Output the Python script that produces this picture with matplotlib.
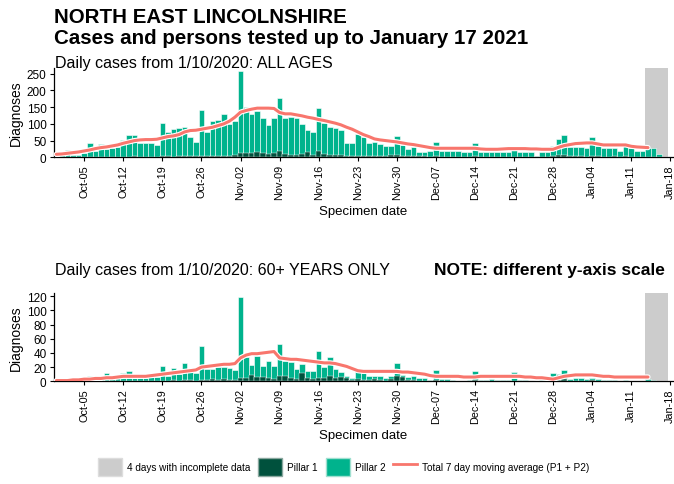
import pandas as pd
import numpy as np
import matplotlib
matplotlib.use("Agg")
import matplotlib.pyplot as plt
import matplotlib.patheffects as pe
from matplotlib.patches import Patch
from matplotlib.lines import Line2D

plt.rcParams['font.family'] = ['Liberation Sans', 'DejaVu Sans']

# daily bars: 1 Oct 2020 - 17 Jan 2021
bar_dates = pd.date_range("2020-10-01", "2021-01-17")
# 7 day average line: 30 Sep 2020 - 14 Jan 2021
avg_dates = pd.date_range("2020-09-30", "2021-01-14")

all_total = [6, 22, 6, 8, 12, 42, 20, 40, 25, 28, 32,
             52, 67, 66, 42, 42, 42, 38, 104, 77, 85, 88, 92, 60, 45,
             140, 77, 110, 112, 130, 100, 110,
             258, 150, 128, 137, 117, 97, 117,
             177, 117, 122, 117, 99, 82, 77,
             147, 102, 92, 89, 82, 42, 42,
             70, 62, 42, 47, 40, 34, 34, 65, 37, 25, 32, 15, 15, 19,
             45, 19, 19, 19, 19, 15, 15, 42, 15, 15, 15, 15, 15, 15, 35, 15, 15, 15, 3, 15, 15, 35,
             55, 67, 30, 32, 32, 27, 60, 34, 27, 27, 27, 19, 34, 27, 19, 19, 27, 27, 9, 2]
all_pillar1 = [1, 1, 0, 1, 1, 2, 1, 2, 1, 1, 2,
               2, 2, 3, 2, 2, 2, 2, 3, 3, 2, 3, 4, 3, 3,
               4, 4, 3, 4, 5, 5, 6,
               12, 14, 14, 15, 13, 10, 12,
               18, 10, 8, 8, 10, 15, 8,
               18, 9, 7, 6, 6, 4, 5,
               5, 5, 4, 4, 3, 3, 6, 7, 5, 4, 3, 3, 3, 2,
               3, 2, 2, 2, 2, 2, 2, 3, 2, 2, 2, 2, 2, 2, 2, 2, 2, 2, 1, 2, 2, 3,
               6, 8, 5, 3, 3, 2, 4, 3, 2, 2, 3, 2, 3, 2, 2, 2, 2, 2, 1, 0]
all_avg = [9, 10, 12, 14, 16, 19, 22, 26, 29, 31, 34, 37, 42, 46, 50, 52, 53, 53, 54, 58,
           62, 64, 68, 76, 80, 81, 84, 87, 90, 95, 100, 108, 120, 135, 140, 144, 147, 147,
           147, 146, 134, 130, 130, 127, 124, 120, 117, 113, 110, 106, 102, 97, 90, 84, 76,
           68, 62, 55, 52, 50, 48, 46, 43, 40, 38, 35, 32, 29, 27, 27, 27, 27, 27, 27, 27,
           27, 25, 24, 24, 24, 25, 26, 26, 26, 26, 25, 25, 24, 24, 24, 30, 35, 38, 41, 42,
           43, 43, 40, 37, 37, 37, 37, 37, 33, 31, 30, 29]

old_total = [0, 1, 0, 1, 2, 8, 2, 3, 12, 3, 4, 11, 14, 5, 5, 5, 6, 6, 22, 8, 19, 10, 26, 14, 12,
             50, 17, 18, 20, 20, 19, 16,
             119, 34, 23, 36, 22, 28, 21,
             53, 28, 27, 18, 24, 15, 14,
             43, 20, 34, 17, 13, 7, 4,
             15, 12, 8, 8, 8, 4, 8, 26, 9, 6, 8, 4, 4, 2,
             16, 3, 3, 2, 1, 1, 2, 14, 2, 2, 3, 2, 2, 2, 13, 2, 2, 1, 1, 2, 2, 11,
             10, 16, 3, 4, 4, 3, 4, 3, 2, 2, 2, 1, 2, 1, 1, 1, 3, 2, 0, 0]
old_pillar1 = [0, 0, 0, 0, 0, 1, 0, 0, 1, 0, 0, 1, 1, 1, 0, 1, 1, 1, 1, 1, 2, 1, 2, 2, 1,
               2, 2, 3, 2, 3, 2, 2,
               4, 4, 9, 6, 6, 4, 3,
               8, 7, 4, 3, 12, 4, 3,
               5, 4, 7, 5, 6, 4, 2,
               3, 2, 2, 3, 2, 1, 3, 7, 6, 2, 2, 1, 1, 0,
               2, 1, 1, 0, 0, 0, 0, 2, 0, 1, 0, 0, 1, 0, 1, 0, 0, 0, 0, 0, 1, 1,
               2, 3, 1, 1, 1, 1, 2, 1, 1, 0, 1, 0, 0, 0, 0, 0, 0, 1, 0, 0]
old_avg = [1, 1, 1, 2, 2, 3, 3, 4, 4, 5, 5, 6, 7, 7, 7, 7, 7, 8, 9, 10,
           11, 12, 13, 14, 15, 16, 20, 21, 22, 23, 24, 24, 25, 33, 37, 39, 39, 40,
           41, 42, 33, 32, 31, 31, 30, 29, 28, 27, 26, 26, 25, 23, 21, 18, 15,
           14, 14, 14, 14, 14, 14, 14, 13, 13, 12, 11, 10, 8, 7, 7, 7, 7, 7, 6, 6,
           6, 7, 7, 7, 7, 7, 7, 7, 7, 6, 6, 5, 5, 4, 3, 5, 7, 8, 9, 9,
           9, 9, 8, 7, 7, 6, 6, 6, 6, 6, 6, 6]

incomplete_start = "2021-01-13 12:00"
incomplete_end = "2021-01-17 12:00"

P1_COL = "#00513D"
P2_COL = "#00B38D"
AVG_COL = "#F8766D"
GREY = "#CCCCCC"


def draw_panel(ax, total, pillar1, avg, ymax, yticks):
    ax.axvspan(pd.Timestamp(incomplete_start), pd.Timestamp(incomplete_end),
               color=GREY, zorder=0, lw=0)
    ax.bar(bar_dates, total, width=1.0, color=P2_COL, edgecolor="white", linewidth=0.4, zorder=1)
    ax.bar(bar_dates, pillar1, width=1.0, color=P1_COL, edgecolor="white", linewidth=0.3, zorder=2)
    ax.plot(avg_dates, avg, color=AVG_COL, lw=2.2, zorder=3, solid_capstyle="round",
            path_effects=[pe.Stroke(linewidth=3.8, foreground="white"), pe.Normal()])

    ax.set_xlim(pd.Timestamp("2020-09-29 12:00"), pd.Timestamp("2021-01-18 13:00"))
    ax.set_ylim(0, ymax)
    ax.set_yticks(yticks)
    ticks = pd.date_range("2020-10-05", "2021-01-18", freq="7D")
    ax.set_xticks(ticks)
    ax.set_xticklabels([t.strftime("%b-%d") for t in ticks], rotation=90, fontsize=7.8)
    ax.tick_params(axis="y", labelsize=8.5, length=3, pad=2)
    ax.tick_params(axis="x", length=3, pad=2)
    for s in ["top", "right"]:
        ax.spines[s].set_visible(False)
    ax.spines["left"].set_linewidth(0.9)
    ax.spines["bottom"].set_linewidth(0.9)
    ax.set_ylabel("Diagnoses", fontsize=10, labelpad=3)
    ax.set_xlabel("Specimen date", fontsize=9.5, labelpad=4)


fig = plt.figure(figsize=(6.74, 4.85), dpi=100)
ax1 = fig.add_axes([0.0794, 0.6736, 0.9196, 0.1841])
ax2 = fig.add_axes([0.0794, 0.2118, 0.9196, 0.1820])

draw_panel(ax1, all_total, all_pillar1, all_avg, 267, [0, 50, 100, 150, 200, 250])
draw_panel(ax2, old_total, old_pillar1, old_avg, 124.7, [0, 20, 40, 60, 80, 100, 120])

fig.text(0.080, 0.964, "NORTH EAST LINCOLNSHIRE", fontsize=14.8, fontweight="bold", va="center")
fig.text(0.080, 0.920, "Cases and persons tested up to January 17 2021", fontsize=14.8,
         fontweight="bold", va="center")
fig.text(0.081, 0.870, "Daily cases from 1/10/2020: ALL AGES", fontsize=11.5, va="center")
fig.text(0.081, 0.443, "Daily cases from 1/10/2020: 60+ YEARS ONLY", fontsize=11.5, va="center")
fig.text(0.987, 0.443, "NOTE: different y-axis scale", fontsize=12.5, fontweight="bold",
         va="center", ha="right")

handles = [Patch(facecolor=GREY, edgecolor="#DDDDDD", label="4 days with incomplete data"),
           Patch(facecolor=P1_COL, edgecolor="#8AA89F", label="Pillar 1"),
           Patch(facecolor=P2_COL, edgecolor="#9FE0D0", label="Pillar 2"),
           Line2D([0], [0], color=AVG_COL, lw=2, label="Total 7 day moving average (P1 + P2)")]
fig.legend(handles=handles, loc="center", bbox_to_anchor=(0.51, 0.035), ncol=4, frameon=False,
           fontsize=7.2, handlelength=2.4, handleheight=2.4, handletextpad=0.5,
           columnspacing=0.8)

fig.savefig("out.png", dpi=100)
